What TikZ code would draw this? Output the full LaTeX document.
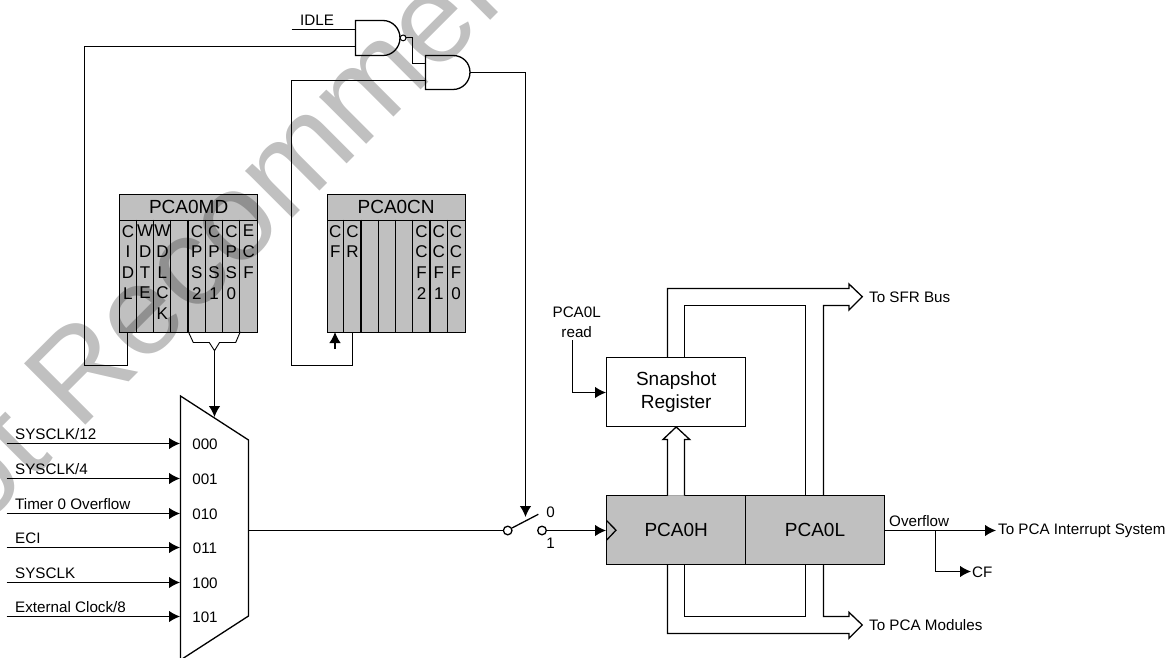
\documentclass[tikz,border=0pt]{standalone}
\usepackage{fontspec}
\setmainfont{Liberation Sans}
\usetikzlibrary{arrows.meta,calc}
\newcommand{\fs}[1]{\fontsize{#1}{#1}\selectfont}
\tikzset{
  wire/.style={line width=1.3pt,black},
  arr/.style={wire,-{Latex[length=11pt,width=11.5pt]}},
  reg/.style={draw,line width=1.3pt,fill=regfill,inner sep=0pt,minimum height=69pt,minimum width=139pt,font=\fs{19}},
  title/.style={draw,line width=1.3pt,fill=regfill,inner sep=0pt,minimum height=26pt,minimum width=138pt,anchor=north west,font=\fs{19}},
  body/.style={draw,line width=1.3pt,fill=regfill,inner sep=0pt,minimum height=112.5pt,minimum width=138pt,anchor=north west},
  bit/.style={inner sep=0pt,anchor=north,align=center,font=\fontsize{17}{20.7}\selectfont},
  lbl/.style={inner sep=0pt,font=\fs{15.2}},
  inlbl/.style={lbl,anchor=base west},
  gate/.style={line width=1.3pt,fill=white},
  bus/.style={line width=1.3pt,fill=white,line join=miter}
}
\definecolor{regfill}{HTML}{C0C0C0}
\begin{document}
\begin{tikzpicture}[x=1pt,y=-1pt]
\useasboundingbox (0,0) rectangle (1173,658);
% registers
\node[title] (mdt) at (119,193.5) {PCA0MD};
\node[body] (mdb) at (119,219.5) {};
\node[title] (cnt) at (326.5,193.5) {PCA0CN};
\node[body] (cnb) at (326.5,219.5) {};
\foreach \i in {1,...,7}{
  \draw[wire] ($(mdb.north west)+(\i*17.25,0)$) -- ($(mdb.south west)+(\i*17.25,0)$);
  \draw[wire] ($(cnb.north west)+(\i*17.25,0)$) -- ($(cnb.south west)+(\i*17.25,0)$);
}
\foreach \i/\t in {0/{C\\I\\D\\L},1/{W\\D\\T\\E},2/{W\\D\\L\\C\\K},4/{C\\P\\S\\2},5/{C\\P\\S\\1},6/{C\\P\\S\\0},7/{E\\C\\F}}
  \node[bit] (md\i) at (127.9+\i*17.25,225) {\t};
\foreach \i/\t in {0/{C\\F},1/{C\\R},5/{C\\C\\F\\2},6/{C\\C\\F\\1},7/{C\\C\\F\\0}}
  \node[bit] (cn\i) at (335.3+\i*17.25,225) {\t};
% gates
\coordinate (nandA) at (355.5,29.5);
\coordinate (nandB) at (355.5,46.5);
\coordinate (andA) at (425.5,63.5);
\coordinate (andB) at (425.5,80.5);
\coordinate (andO) at (470,72.5);
\coordinate (idleS) at (291.5,29.5);
\draw[gate] (355.5,20.5) -- (383,20.5) .. controls (392.5,20.5) and (400,28.4) .. (400,37.9) .. controls (400,47.4) and (392.5,55.5) .. (383,55.5) -- (355.5,55.5) -- cycle;
\draw[gate] (425.5,55.5) -- (453,55.5) .. controls (462.5,55.5) and (470,62.7) .. (470,72.2) .. controls (470,81.7) and (462.5,89.5) .. (453,89.5) -- (425.5,89.5) -- cycle;
\draw[gate,line width=1pt] (403.1,37.9) circle[radius=2.9pt];
\node[lbl] (idle) at (317,20) {IDLE};
\draw[wire] (idleS) -- (nandA);
\draw[wire] (406,37.5) -- (412.5,37.5) -- (412.5,63.5) -- (andA);
\draw[wire] (127.5,332) -- (127.5,365.5) -- (84.5,365.5) -- (84.5,46.5) -- (nandB);
\draw[wire] (352.5,332) -- (352.5,365.5) -- (291.5,365.5) -- (291.5,80.5) -- (andB);
\draw[arr] (335,349) -- (335,332);
% brace
\coordinate (brJ) at (214.5,350.7);
\draw[line width=.9pt] (188.3,331.7) -- (193.3,342.5) -- (209.3,342.5) -- (brJ) -- (219.5,342.5) -- (235.7,342.5) -- (240.3,331.7);
% mux
\draw[wire,fill=white] (180.5,396) -- (248.5,440) -- (248.5,616) -- (180.5,660) -- cycle;
\coordinate (muxO) at (248.5,530.5);
\draw[arr] (brJ) -- (214.5,417);
\foreach \y/\t/\c/\by in {443.5/SYSCLK\slash 12/000/439.3,478.5/SYSCLK\slash 4/001/474,513.5/Timer 0 Overflow/010/509,547.5/ECI/011/543.3,582.5/SYSCLK/100/578,616.5/External Clock\slash 8/101/612.7}{
  \coordinate (s\c) at (6.7,\y);
  \coordinate (m\c) at (180,\y);
  \draw[arr] (s\c) -- (m\c);
  \node[inlbl] (l\c) at (15,\by) {\t};
  \node[lbl] (n\c) at (205,\y+1) {\c};
}
% switch
\node[draw,circle,line width=1.3pt,fill=white,minimum size=8.6pt,inner sep=0pt] (swL) at (507.7,530.5) {};
\node[draw,circle,line width=1.3pt,fill=white,minimum size=8.6pt,inner sep=0pt] (swR) at (542,530.5) {};
\draw[wire] (muxO) -- (swL);
\draw[wire] (512,528) -- (538.3,514.3);
\coordinate (blade) at (525.5,517);
\draw[wire] (andO) -- (525.5,72.5) -- (525.5,505);
\draw[arr] (525.5,500) -- (blade);
\node[lbl] (sw0) at (550.7,512.7) {0};
\node[lbl] (sw1) at (550.7,543) {1};
% counters
\node[reg] (pch) at (676.2,530.2) {PCA0H};
\node[reg] (pcl) at (815,530.2) {PCA0L};
\node[draw,line width=1.3pt,fill=white,inner sep=0pt,minimum width=139pt,minimum height=68.6pt,align=center,font=\fontsize{19}{23}\selectfont] (snap) at (676.2,392) {Snapshot\\Register};
\draw[arr] (swR) -- (swR -| pch.west);
\draw[wire] (606.7,520.7) -- (616,530.2) -- (606.7,540);
% read
\node[lbl,align=center,font=\fontsize{15.2}{20}\selectfont] (rd) at (576.7,322) {PCA0L\\read};
\draw[arr] (572.5,340) -- (572.5,392.5) -- (snap.west |- 0,392.5);
% hollow up arrow
\draw[bus] (667.5,495.7) -- (667.5,439.5) -- (663,439.5) -- (snap.south) -- (689.7,439.5) -- (684.5,439.5) -- (684.5,495.7);
% top bus
\draw[bus,fill=none] (667.5,357.7) -- (667.5,288.5) -- (849,288.5) -- (849,284) -- (862.3,296.7) -- (849,310) -- (849,305.5) -- (823.5,305.5) -- (823.5,495.7);
\draw[bus,fill=none] (684.5,357.7) -- (684.5,305.5) -- (805.5,305.5) -- (805.5,495.7);
% bottom bus
\draw[bus,fill=none] (667.5,564.7) -- (667.5,633.5) -- (849,633.5) -- (849,638.3) -- (862.3,625) -- (849,612.3) -- (849,616.5) -- (823.5,616.5) -- (823.5,564.7);
\draw[bus,fill=none] (684.5,564.7) -- (684.5,616.5) -- (805.5,616.5) -- (805.5,564.7);
\node[lbl,anchor=west] (sfr) at (869,297) {To SFR Bus};
\node[lbl,anchor=west] (mods) at (869,625) {To PCA Modules};
\node[lbl,anchor=west] (ovf) at (889,521) {Overflow};
\node[lbl,anchor=west] (intr) at (998,531) {To PCA Interrupt System};
\node[lbl,anchor=west] (cf) at (972,572) {CF};
\draw[arr] (pcl.east |- 0,530.5) -- (996,530.5);
\draw[arr] (935.5,530.5) -- (935.5,571.5) -- (971,571.5);
% watermark
\begin{scope}[blend mode=multiply]
\clip (0,0) rectangle (1173,658);
\node[inner sep=0pt,anchor=base west,rotate=45,text=regfill,font=\fs{126}] (wm) at (-85,596) {Not Recommended};
\end{scope}
\end{tikzpicture}
\end{document}
